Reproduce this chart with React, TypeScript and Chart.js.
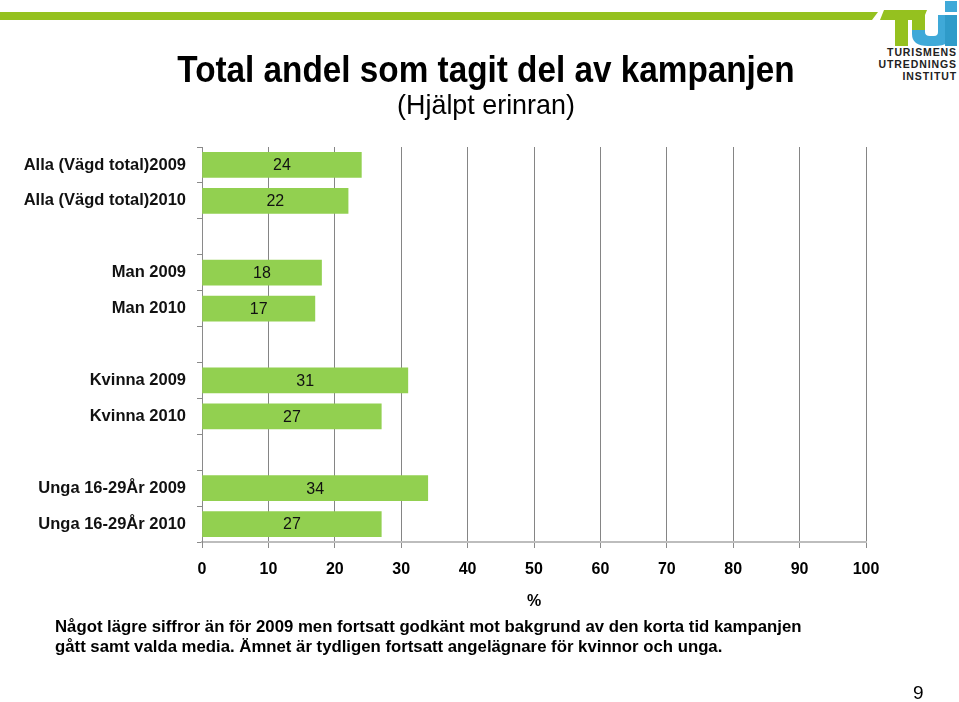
import React, { useEffect, useRef } from "react";
import { Chart, registerables } from "chart.js";

Chart.register(...registerables);

const categories = [
  "Alla (Vägd total)2009",
  "Alla (Vägd total)2010",
  "",
  "Man 2009",
  "Man 2010",
  "",
  "Kvinna 2009",
  "Kvinna 2010",
  "",
  "Unga 16-29År 2009",
  "Unga 16-29År 2010",
];
const values: (number | null)[] = [24, 22, null, 18, 17, null, 31, 27, null, 34, 27];
const xMin = 0;
const xMax = 100;
const xStep = 10;
const axisTitle = "%";

const FONT = "'Liberation Sans', Arial, Helvetica, sans-serif";

const barLabels = {
  id: "barLabels",
  afterDatasetsDraw(chart: any) {
    const ctx = chart.ctx;
    const meta = chart.getDatasetMeta(0);
    ctx.save();
    ctx.font = `16px ${FONT}`;
    ctx.fillStyle = "#111";
    ctx.textAlign = "center";
    ctx.textBaseline = "middle";
    meta.data.forEach((el: any, i: number) => {
      const v = values[i];
      if (v == null) return;
      const p = el.getProps(["x", "base", "y"], true);
      ctx.fillText(String(v), (p.x + p.base) / 2, p.y + 1);
    });
    ctx.restore();
  },
};

export default function App() {
  const ref = useRef<HTMLCanvasElement | null>(null);

  useEffect(() => {
    if (!ref.current) return;
    const chart = new Chart(ref.current, {
      type: "bar",
      data: {
        labels: categories,
        datasets: [
          {
            data: values as any,
            backgroundColor: "#92d050",
            borderWidth: 0,
            barThickness: 25,
          },
        ],
      },
      options: {
        indexAxis: "y",
        responsive: false,
        animation: false,
        layout: { padding: { left: 0, top: 147, right: 93, bottom: 90 } },
        plugins: {
          legend: { display: false },
          tooltip: { enabled: false },
          title: { display: false },
        },
        scales: {
          x: {
            min: xMin,
            max: xMax,
            ticks: {
              stepSize: xStep,
              color: "#000",
              font: { family: FONT, size: 16, weight: "bold" },
              padding: 12,
            },
            grid: {
              color: "#858585",
              tickColor: "#8a8a8a",
              tickLength: 6,
              lineWidth: 1,
            },
            border: { display: true, color: "#bdbdbd", width: 2 },
            title: {
              display: true,
              text: axisTitle,
              color: "#000",
              font: { family: FONT, size: 16, weight: "bold" },
              padding: { top: 0, bottom: 1 },
            },
            afterFit: (s: any) => {
              s.height = 70;
            },
          },
          y: {
            ticks: {
              color: "#111",
              font: { family: FONT, size: 16.5, weight: "bold" },
              padding: 11,
              autoSkip: false,
            },
            grid: {
              drawOnChartArea: false,
              color: "#8a8a8a",
              tickLength: 5,
              offset: true,
            },
            border: { display: true, color: "#8a8a8a", width: 1 },
            afterFit: (s: any) => {
              s.width = 202;
            },
          },
        },
      },
      plugins: [barLabels],
    } as any);
    return () => chart.destroy();
  }, []);

  return (
    <div
      style={{
        position: "absolute",
        left: 0,
        top: 0,
        width: 959,
        height: 702,
        background: "#fff",
        overflow: "hidden",
        fontFamily: FONT,
      }}
    >
      <svg
        width={959}
        height={702}
        style={{ position: "absolute", left: 0, top: 0 }}
      >
        <polygon points="0,12 878,12 872,20 0,20" fill="#95c11f" />
        <polygon points="884,10 927,10 923,20 880,20" fill="#95c11f" />
        <rect x={895} y={10} width={13} height={36} fill="#95c11f" />
        <path
          d="M912,15 L925,15 L925,32 Q925,36 930,36 L934,36 Q938,36 938,32 L938,15 L951,15 L951,34 Q951,46 935,46 L928,46 Q912,46 912,34 Z"
          fill="#3fa9d8"
        />
        <rect x={912} y={15} width={13} height={15} fill="#95c11f" />
        <rect x={945} y={1} width={12} height={11} fill="#3fa9d8" />
        <rect x={945} y={15} width={12} height={31} fill="#2f9bc9" />
      </svg>
      <div
        style={{
          position: "absolute",
          right: 2,
          top: 46,
          textAlign: "right",
          fontSize: 10.5,
          lineHeight: "12px",
          fontWeight: "bold",
          letterSpacing: 0.9,
          color: "#222",
        }}
      >
        <div>TURISMENS</div>
        <div>UTREDNINGS</div>
        <div>INSTITUT</div>
      </div>

      <canvas
        ref={ref}
        width={959}
        height={702}
        style={{ position: "absolute", left: 0, top: 0 }}
      />

      <div
        style={{
          position: "absolute",
          left: 0,
          width: 972,
          top: 51,
          textAlign: "center",
          fontSize: 37,
          lineHeight: "37px",
          fontWeight: "bold",
          color: "#000",
          whiteSpace: "nowrap",
          transform: "scaleX(0.9)",
          transformOrigin: "486px 0",
        }}
      >
        Total andel som tagit del av kampanjen
      </div>
      <div
        style={{
          position: "absolute",
          left: 0,
          width: 972,
          top: 91,
          textAlign: "center",
          fontSize: 28,
          lineHeight: "28px",
          color: "#000",
          whiteSpace: "nowrap",
          transform: "scaleX(0.96)",
          transformOrigin: "486px 0",
        }}
      >
        (Hjälpt erinran)
      </div>

      <div
        style={{
          position: "absolute",
          left: 55,
          top: 617,
          fontSize: 16.75,
          lineHeight: "20px",
          fontWeight: "bold",
          color: "#000",
          whiteSpace: "nowrap",
        }}
      >
        <div>Något lägre siffror än för 2009 men fortsatt godkänt mot bakgrund av den korta tid kampanjen</div>
        <div>gått samt valda media. Ämnet är tydligen fortsatt angelägnare för kvinnor och unga.</div>
      </div>

      <div
        style={{
          position: "absolute",
          left: 913,
          top: 683,
          fontSize: 19,
          lineHeight: "20px",
          color: "#000",
        }}
      >
        9
      </div>
    </div>
  );
}
